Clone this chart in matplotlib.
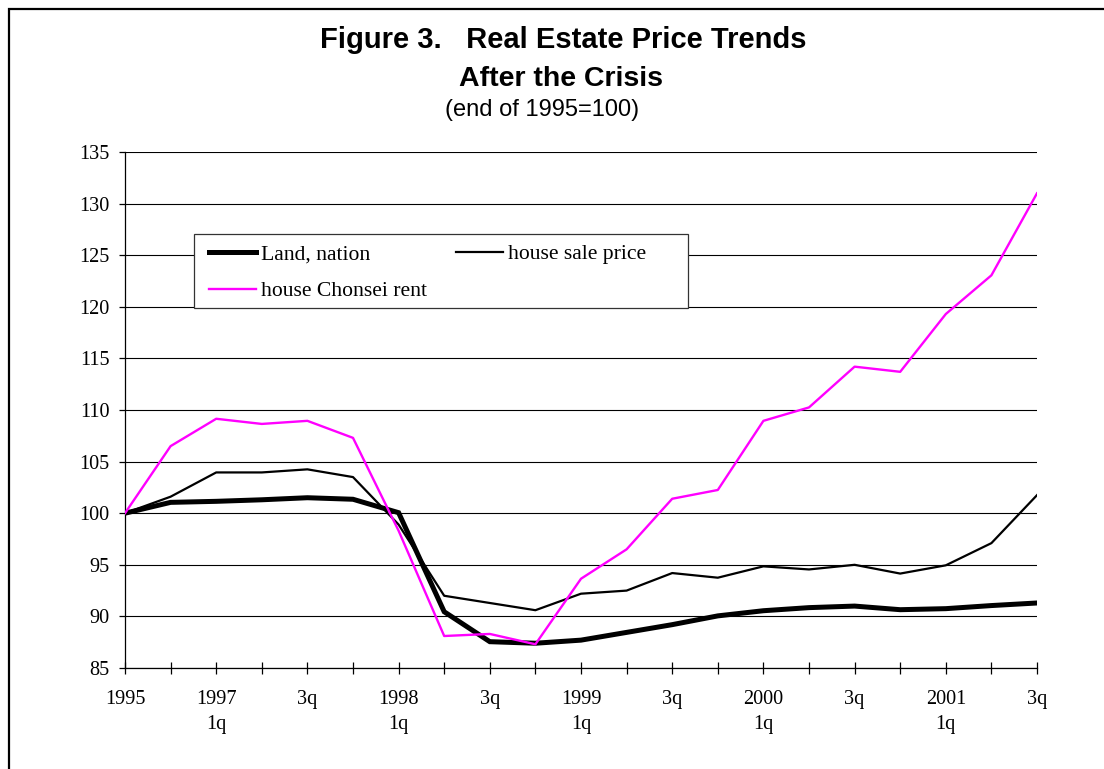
import matplotlib
matplotlib.use("Agg")
import matplotlib.pyplot as plt
from matplotlib.patches import Rectangle

# quarterly index, end of 1995 = 100
x_labels = ["1995", "", "1997\n1q", "", "3q", "", "1998\n1q", "", "3q", "",
            "1999\n1q", "", "3q", "", "2000\n1q", "", "3q", "", "2001\n1q", "", "3q"]

land_nation = [100.0, 101.05, 101.15, 101.3, 101.5, 101.35, 100.05, 90.45, 87.55, 87.4,
               87.7, 88.45, 89.2, 90.05, 90.55, 90.85, 91.0, 90.65, 90.75, 91.05, 91.3]
house_sale = [100.0, 101.6, 103.95, 103.95, 104.25, 103.5, 98.9, 92.0, 91.3, 90.6,
              92.2, 92.5, 94.2, 93.75, 94.85, 94.55, 95.0, 94.15, 94.95, 97.1, 101.75]
chonsei_rent = [100.0, 106.5, 109.15, 108.65, 108.95, 107.3, 98.3, 88.1, 88.3, 87.3,
                93.65, 96.5, 101.4, 102.25, 108.95, 110.25, 114.2, 113.7, 119.3, 123.05, 131.0]

y_ticks = [85, 90, 95, 100, 105, 110, 115, 120, 125, 130, 135]

W, H = 1104, 769
SERIF = "Liberation Serif"
SANS = "Liberation Sans"


def main() -> None:
    fig = plt.figure(figsize=(W / 100, H / 100), dpi=100)
    ax = fig.add_axes([125 / W, 1 - 668 / H, 912 / W, 516 / H])

    xs = list(range(len(x_labels)))
    l1, = ax.plot(xs, land_nation, color="black", lw=3.6, zorder=3,
                  solid_joinstyle="miter", label="Land, nation")
    l2, = ax.plot(xs, house_sale, color="black", lw=1.6, zorder=3,
                  label="house sale price")
    l3, = ax.plot(xs, chonsei_rent, color="#FF00FF", lw=1.7, zorder=3,
                  label="house Chonsei rent")

    ax.set_xlim(0, len(x_labels) - 1)
    ax.set_ylim(85, 135)
    ax.set_xticks(xs)
    ax.set_xticklabels(x_labels, fontfamily=SERIF, fontsize=14.6, linespacing=1.45)
    ax.set_yticks(y_ticks)
    ax.set_yticklabels([str(t) for t in y_ticks], fontfamily=SERIF, fontsize=14.6)
    ax.tick_params(axis="x", direction="inout", length=9, width=0.9, pad=11)
    ax.tick_params(axis="y", direction="out", length=4, width=0.9, pad=7)

    ax.grid(axis="y", color="black", lw=0.8)
    ax.set_axisbelow(True)
    for side in ["top", "right"]:
        ax.spines[side].set_visible(False)
    ax.spines["left"].set_linewidth(0.9)
    ax.spines["bottom"].set_linewidth(0.9)

    # legend box drawn by hand so the frame matches the original width
    ax.add_patch(Rectangle((69 / 912, 360 / 516), 494 / 912, 74 / 516,
                           transform=ax.transAxes, facecolor="white",
                           edgecolor="#333333", lw=0.9, zorder=2))
    leg = ax.legend([l1, l3, l2], [l1.get_label(), l3.get_label(), l2.get_label()],
                    ncol=2, loc="upper left", bbox_to_anchor=(84 / 912, 424 / 516),
                    frameon=False, borderpad=0, borderaxespad=0,
                    handlelength=2.15, handletextpad=0.25, columnspacing=1.35,
                    labelspacing=0.78, prop={"family": SERIF, "size": 15.6})
    leg.set_zorder(4)

    fig.text(563 / W, 1 - 48 / H, "Figure 3.   Real Estate Price Trends",
             ha="center", va="baseline", fontfamily=SANS, fontweight="bold",
             fontsize=21)
    fig.text(561 / W, 1 - 86 / H, "After the Crisis", ha="center", va="baseline",
             fontfamily=SANS, fontweight="bold", fontsize=20.5)
    fig.text(542 / W, 1 - 116 / H, "(end of 1995=100)", ha="center", va="baseline",
             fontfamily=SANS, fontsize=17)

    # outer chart frame (only top and left edges fall inside the picture)
    fig.add_artist(Rectangle((9 / W, -0.1), 1.2, 1 - 9 / H + 0.1,
                             transform=fig.transFigure, fill=False,
                             edgecolor="black", lw=1.6))

    fig.savefig("out.png", dpi=100)


if __name__ == "__main__":
    main()
